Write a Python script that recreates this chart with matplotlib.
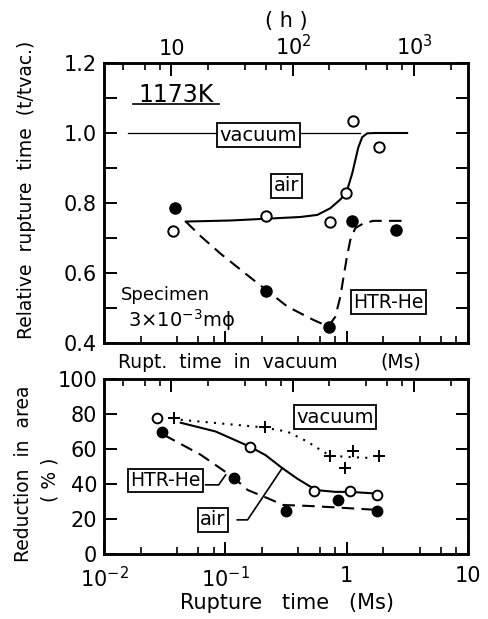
import matplotlib
matplotlib.use("Agg")
import matplotlib.pyplot as plt
from matplotlib.ticker import FixedLocator, NullFormatter

plt.rcParams['font.family'] = ['DejaVu Sans']
plt.rcParams['mathtext.fontset'] = 'dejavusans'

# ---------------- data (time in Ms) ----------------
# top panel: relative rupture time t/tvac
air_top_t = [0.0371, 0.217, 0.733, 0.986, 1.127, 1.85]
air_top_r = [0.72, 0.764, 0.747, 0.828, 1.035, 0.96]
he_top_t = [0.0383, 0.216, 0.709, 1.105, 2.55]
he_top_r = [0.787, 0.549, 0.447, 0.749, 0.723]

vac_line_t = [0.0157, 1.3]
vac_line_r = [1.0, 1.0]

air_curve_t = [0.0472, 0.1106, 0.2144, 0.4155, 0.5733, 0.7329, 0.886, 0.992,
               1.112, 1.245, 1.343, 1.476, 1.718, 3.15]
air_curve_r = [0.747, 0.750, 0.755, 0.760, 0.766, 0.785, 0.81, 0.828,
               0.885, 0.958, 0.988, 0.999, 1.0, 1.0]

he_curve_t = [0.0472, 0.0627, 0.0915, 0.1468, 0.2144, 0.325, 0.5316, 0.706,
              0.806, 0.886, 0.943, 1.006, 1.071, 1.177, 1.377, 1.663, 2.918]
he_curve_r = [0.747, 0.705, 0.655, 0.598, 0.553, 0.504, 0.466, 0.447,
              0.475, 0.532, 0.589, 0.647, 0.694, 0.728, 0.742, 0.749, 0.749]

# bottom panel: reduction in area (%)
air_bot_t = [0.0276, 0.159, 0.534, 1.07, 1.79]
air_bot_r = [77.7, 61.4, 36.2, 36.1, 33.8]
he_bot_t = [0.0298, 0.1177, 0.317, 0.841, 1.79]
he_bot_r = [69.8, 43.3, 24.8, 30.9, 24.8]
vac_bot_t = [0.0378, 0.211, 0.733, 0.962, 1.12, 1.83]
vac_bot_r = [77.7, 72.5, 56.1, 49.0, 59.0, 56.1]

vac_bcurve_t = [0.0429, 0.195, 0.323, 0.472, 0.607, 0.733, 1.139, 1.663]
vac_bcurve_r = [76.7, 72.5, 70.0, 64.3, 59.5, 56.1, 55.3, 54.8]
air_bcurve_t = [0.0429, 0.0832, 0.1584, 0.2144, 0.2957, 0.3927, 0.5024, 0.607,
                0.806, 1.071, 1.784]
air_bcurve_r = [75.0, 70.0, 61.4, 56.5, 49.0, 43.0, 38.5, 36.3, 35.5, 35.5, 34.5]
he_bcurve_t = [0.0311, 0.0627, 0.117, 0.1525, 0.2226, 0.3013, 0.4745, 0.776, 1.784]
he_bcurve_r = [68.1, 56.7, 43.7, 36.6, 31.9, 28.0, 27.5, 26.7, 25.2]

# leader lines (bottom panel)
he_lead_t = [0.0689, 0.0881, 0.1006]
he_lead_r = [39.5, 39.5, 45.2]
air_lead_t = [0.1255, 0.1525, 0.2938]
air_lead_r = [19.5, 19.5, 49.0]

# ticks
ms_major = [0.01, 0.1, 1, 10]
ms_labels = [r'$10^{-2}$', r'$10^{-1}$', '1', '10']
ms_minor = [m * d for d in (0.01, 0.1, 1) for m in (2, 4, 6, 8)]
h_major = [10, 100, 1000]
h_labels = ['10', r'$10^{2}$', r'$10^{3}$']
h_minor = [4, 6, 8, 20, 40, 60, 80, 200, 400, 600, 800, 2000]
top_yticks = [0.4, 0.5, 0.6, 0.7, 0.8, 0.9, 1.0, 1.1, 1.2]
top_ylabels = ['0.4', '', '0.6', '', '0.8', '', '1.0', '', '1.2']
bot_yticks = [0, 20, 40, 60, 80, 100]
bot_ylabels = ['0', '20', '40', '60', '80', '100']

MS_TO_H = 1e6 / 3600.0

fig = plt.figure(figsize=(4.89, 6.19), dpi=100)
W, H = 489.0, 619.0
ax1 = fig.add_axes([104 / W, 1 - 343 / H, 364 / W, 280 / H])
ax2 = fig.add_axes([104 / W, 1 - 554 / H, 364 / W, 175 / H])

SPW = 1.8
TFS = 15

def style_axes(ax, yt, yl, ylim, show_xlabels):
    ax.set_xscale('log')
    ax.set_xlim(0.01, 10)
    ax.set_ylim(*ylim)
    for s in ax.spines.values():
        s.set_linewidth(SPW)
    ax.xaxis.set_major_locator(FixedLocator(ms_major))
    ax.xaxis.set_minor_locator(FixedLocator(ms_minor))
    ax.xaxis.set_minor_formatter(NullFormatter())
    if show_xlabels:
        ax.set_xticklabels(ms_labels)
    else:
        ax.set_xticklabels([''] * len(ms_major))
    ax.set_yticks(yt)
    ax.set_yticklabels(yl)
    ax.tick_params(axis='x', which='major', direction='in', length=9, width=1.4,
                   labelsize=TFS, pad=9)
    ax.tick_params(axis='x', which='minor', direction='in', length=5, width=1.2)
    ax.tick_params(axis='y', which='major', direction='in', length=9, width=1.4,
                   left=True, right=True, labelsize=TFS, pad=5)
    ax.tick_params(axis='y', which='minor', left=False, right=False)
    tw = ax.twiny()
    tw.set_xscale('log')
    tw.set_xlim(0.01 * MS_TO_H, 10 * MS_TO_H)
    for s in tw.spines.values():
        s.set_linewidth(SPW)
    tw.xaxis.set_major_locator(FixedLocator(h_major))
    tw.xaxis.set_minor_locator(FixedLocator(h_minor))
    tw.xaxis.set_minor_formatter(NullFormatter())
    tw.tick_params(axis='x', which='major', direction='in', length=9, width=1.4,
                   labelsize=TFS, pad=3)
    tw.tick_params(axis='x', which='minor', direction='in', length=5, width=1.2)
    return tw

tw1 = style_axes(ax1, top_yticks, top_ylabels, (0.4, 1.2), False)
tw1.set_xticklabels(h_labels)
tw1.set_xlabel('( h )', fontsize=TFS, labelpad=5)
tw2 = style_axes(ax2, bot_yticks, bot_ylabels, (0, 100), True)
tw2.set_xticklabels([''] * len(h_major))

LW = 1.5
box = dict(boxstyle='square,pad=0.12', fc='white', ec='black', lw=1.3)

# ---- top panel ----
ax1.plot(vac_line_t, vac_line_r, color='black', lw=0.9, zorder=1)
ax1.plot(air_curve_t, air_curve_r, color='black', lw=LW, zorder=2)
ax1.plot(he_curve_t, he_curve_r, color='black', lw=LW, dashes=(6, 3.5), zorder=2)
ax1.plot(air_top_t, air_top_r, 'o', ms=7.5, mfc='white', mec='black', mew=1.4, zorder=4)
ax1.plot(he_top_t, he_top_r, 'o', ms=8, mfc='black', mec='black', zorder=4)

ax1.text(0.0391, 1.109, '1173K', fontsize=17, ha='center', va='center')
ax1.plot([0.0173, 0.0881], [1.083, 1.083], color='black', lw=1.2)
ax1.text(0.1878, 0.994, 'vacuum', fontsize=14, ha='center', va='center', bbox=box, zorder=5)
ax1.text(0.319, 0.849, 'air', fontsize=14, ha='center', va='center', bbox=box, zorder=5)
ax1.text(2.197, 0.517, 'HTR-He', fontsize=13.5, ha='center', va='center', bbox=box, zorder=5)
ax1.text(0.0138, 0.537, 'Specimen', fontsize=13, ha='left', va='center')
ax1.text(0.01574, 0.466, '3×10$^{-3}$mϕ', fontsize=14, ha='left', va='center')

# ---- bottom panel ----
ax2.plot(vac_bcurve_t, vac_bcurve_r, color='black', lw=1.5, linestyle=(0, (1, 3)), zorder=2)
ax2.plot(air_bcurve_t, air_bcurve_r, color='black', lw=LW, zorder=2)
ax2.plot(he_bcurve_t, he_bcurve_r, color='black', lw=LW, dashes=(6, 3.5), zorder=2)
ax2.plot(he_lead_t, he_lead_r, color='black', lw=1.2, zorder=2)
ax2.plot(air_lead_t, air_lead_r, color='black', lw=1.2, zorder=2)
ax2.plot(air_bot_t, air_bot_r, 'o', ms=7, mfc='white', mec='black', mew=1.4, zorder=4)
ax2.plot(he_bot_t, he_bot_r, 'o', ms=7.5, mfc='black', mec='black', zorder=4)
ax2.plot(vac_bot_t, vac_bot_r, '+', ms=9, mec='black', mew=1.4, zorder=4)

ax2.text(0.805, 78.1, 'vacuum', fontsize=14, ha='center', va='center', bbox=box, zorder=5)
ax2.text(0.0323, 42.1, 'HTR-He', fontsize=13.5, ha='center', va='center', bbox=box, zorder=5)
ax2.text(0.0786, 19.5, 'air', fontsize=14, ha='center', va='center', bbox=box, zorder=5)

# ---- axis labels ----
fig.text(27 / W, 1 - 190 / H, 'Relative  rupture  time  (t/tvac.)', rotation=90,
         fontsize=13.5, ha='center', va='center')
fig.text(24 / W, 1 - 474 / H, 'Reduction  in  area', rotation=90,
         fontsize=13.5, ha='center', va='center')
fig.text(50 / W, 1 - 480 / H, '( % )', rotation=90,
         fontsize=13.5, ha='center', va='center')
fig.text(118 / W, 1 - 362 / H, 'Rupt.  time  in  vacuum', fontsize=13.5,
         ha='left', va='center')
fig.text(380 / W, 1 - 362 / H, '(Ms)', fontsize=13.5, ha='left', va='center')
fig.text(287 / W, 1 - 603 / H, 'Rupture   time   (Ms)', fontsize=15,
         ha='center', va='center')

fig.savefig('out.png', dpi=100)
